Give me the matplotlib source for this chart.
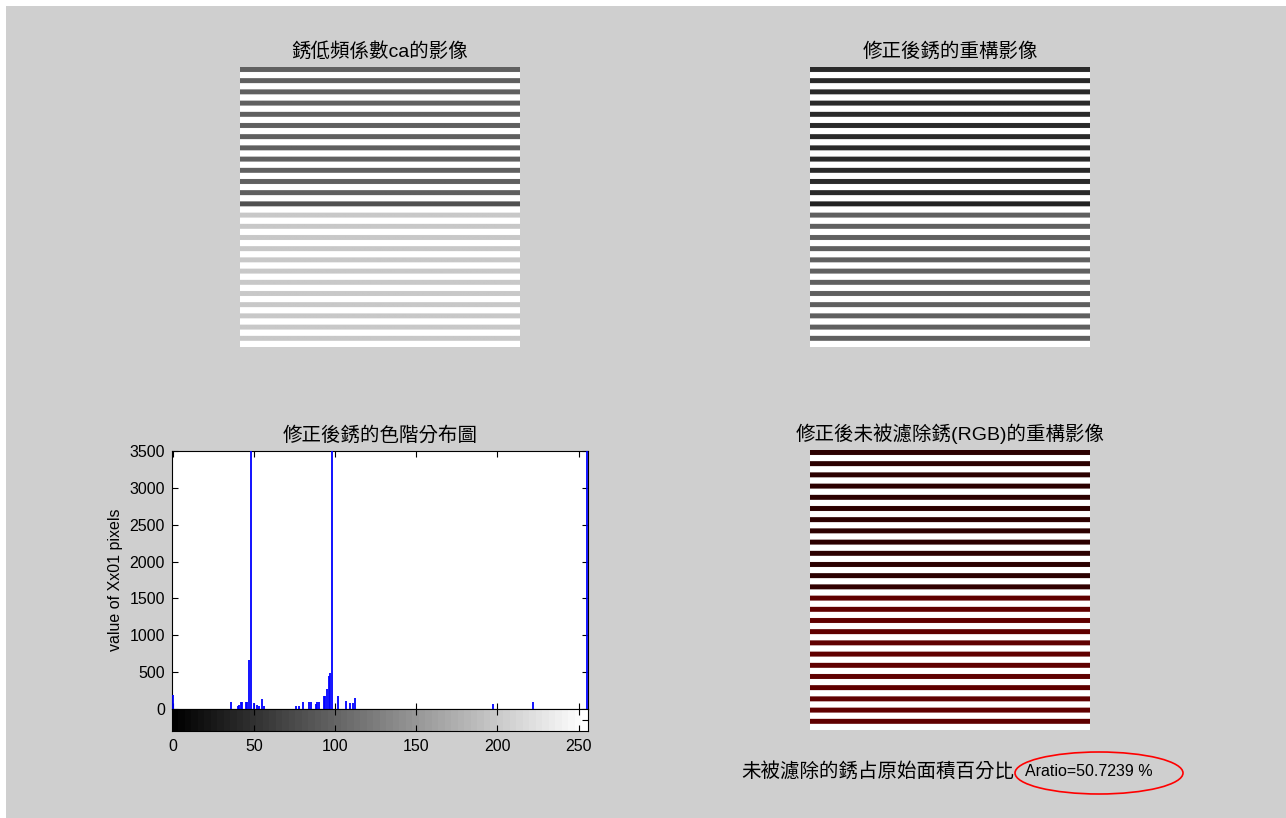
"""Rust-removal result figure: stripe images, gray-level histogram and area ratio."""

import matplotlib
matplotlib.use("Agg")
import matplotlib.pyplot as plt
import numpy as np
from matplotlib.patches import Ellipse, Rectangle

plt.rcParams["font.family"] = ["Liberation Sans", "Noto Sans CJK TC", "DejaVu Sans"]

W, H = 1286, 818
BG = "#cfcfcf"
XLIM = (-0.4, 255.8)

# ---- data ----------------------------------------------------------------
# gray level (0-255) of each stripe, top to bottom
ca_stripes = [96] * 12 + [82] + [200] * 12
rec_stripes = [42] * 12 + [34] + [96] * 12
# red channel of each stripe in the RGB reconstruction
rgb_stripes = [44] * 12 + [50] + [96] * 12

# imhist of the corrected image (gray level -> pixel count)
hist_levels = [0, 36, 40, 41, 42, 43, 45, 46, 47, 48, 50, 52, 53, 55, 56,
               76, 78, 80, 84, 85, 88, 89, 90, 93, 94, 95, 96, 97, 98,
               102, 107, 109, 111, 112, 197, 222, 255]
hist_counts = [194, 90, 36, 54, 90, 90, 90, 90, 667, 16800, 81, 54, 36, 135, 36,
               36, 36, 90, 90, 90, 63, 90, 90, 171, 171, 270, 441, 486, 15200,
               171, 104, 81, 81, 149, 68, 90, 30500]
hist_xticks = [0, 50, 100, 150, 200, 250]
hist_yticks = [0, 500, 1000, 1500, 2000, 2500, 3000, 3500]

aratio = 50.7239

titles = ["銹低頻係數ca的影像", "修正後銹的重構影像",
          "修正後銹的色階分布圖", "修正後未被濾除銹(RGB)的重構影像"]


def px_axes(fig, x0, y0, x1, y1):
    return fig.add_axes([x0 / W, 1 - y1 / H, (x1 - x0) / W, (y1 - y0) / H])


def stripe_rows(levels, dark=4, gap=5):
    rows = []
    for v in levels:
        rows += [v] * dark + [255] * gap
    return rows


def main() -> None:
    fig = plt.figure(figsize=(W / 100, H / 100), dpi=100, facecolor="white")
    fig.add_artist(Rectangle((6 / W, 0), 1, (H - 6) / H, transform=fig.transFigure,
                             facecolor=BG, edgecolor="none", zorder=-10))

    # ---- gray stripe images ---------------------------------------------
    for (x0, y0), stripes, title in [((240, 67), ca_stripes, titles[0]),
                                     ((810, 67), rec_stripes, titles[1])]:
        ax = px_axes(fig, x0, y0, x0 + 280, y0 + 280)
        img = np.array(stripe_rows(stripes), dtype=float)[:, None]
        ax.imshow(img, cmap="gray", vmin=0, vmax=255, aspect="auto")
        ax.axis("off")
        ax.set_title(title, fontsize=14, pad=7)

    # ---- RGB image -------------------------------------------------------
    ax = px_axes(fig, 810, 450, 1090, 730)
    red = np.array(stripe_rows(rgb_stripes), dtype=float)
    gb = np.where(red == 255, 255.0, 0.0)
    rgb = np.stack([red, gb, gb], axis=-1)[:, None, :] / 255
    ax.imshow(rgb, aspect="auto")
    ax.axis("off")
    ax.set_title(titles[3], fontsize=14, pad=7)

    # ---- histogram -------------------------------------------------------
    ax = px_axes(fig, 172, 451, 588, 709)
    ax.vlines(hist_levels, 0, hist_counts, color="#0000ff", lw=1.3, zorder=3)
    ax.set_xlim(*XLIM)
    ax.set_ylim(0, 3500)
    ax.set_xticks(hist_xticks)
    ax.set_xticklabels([])
    ax.set_yticks(hist_yticks)
    ax.tick_params(direction="in", length=4, width=0.8, top=True, right=True,
                   labelsize=11.5, pad=5)
    ax.set_ylabel("value of Xx01 pixels", fontsize=11.5, labelpad=5)
    ax.set_title(titles[2], fontsize=14, pad=7)

    cb = px_axes(fig, 172, 709, 588, 731)
    cb.imshow(np.linspace(0, 1, 64)[None, :], cmap="gray", vmin=0, vmax=1,
              extent=[XLIM[0], XLIM[1], 0, 1], aspect="auto", interpolation="nearest")
    cb.set_xlim(*XLIM)
    cb.set_ylim(0, 1)
    cb.set_xticks(hist_xticks)
    cb.set_yticks([0.5])
    cb.tick_params(direction="in", length=4, width=0.8, top=True, labelsize=11.5, pad=6)
    cb.tick_params(axis="y", left=False, right=True, labelleft=False)

    for a in (ax, cb):
        for s in a.spines.values():
            s.set_linewidth(0.8)

    # ---- area ratio text -------------------------------------------------
    fig.text(741 / W, 1 - 771 / H, "未被濾除的銹占原始面積百分比", fontsize=14,
             va="center", ha="left")
    fig.text(1025 / W, 1 - 771 / H, f"Aratio={aratio} %", fontsize=11.5,
             va="center", ha="left")
    fig.add_artist(Ellipse((1099 / W, 1 - 773 / H), 168 / W, 42 / H,
                           transform=fig.transFigure, fill=False,
                           edgecolor="red", lw=1.2))

    fig.savefig("out.png", dpi=100, facecolor=fig.get_facecolor())


if __name__ == "__main__":
    main()
